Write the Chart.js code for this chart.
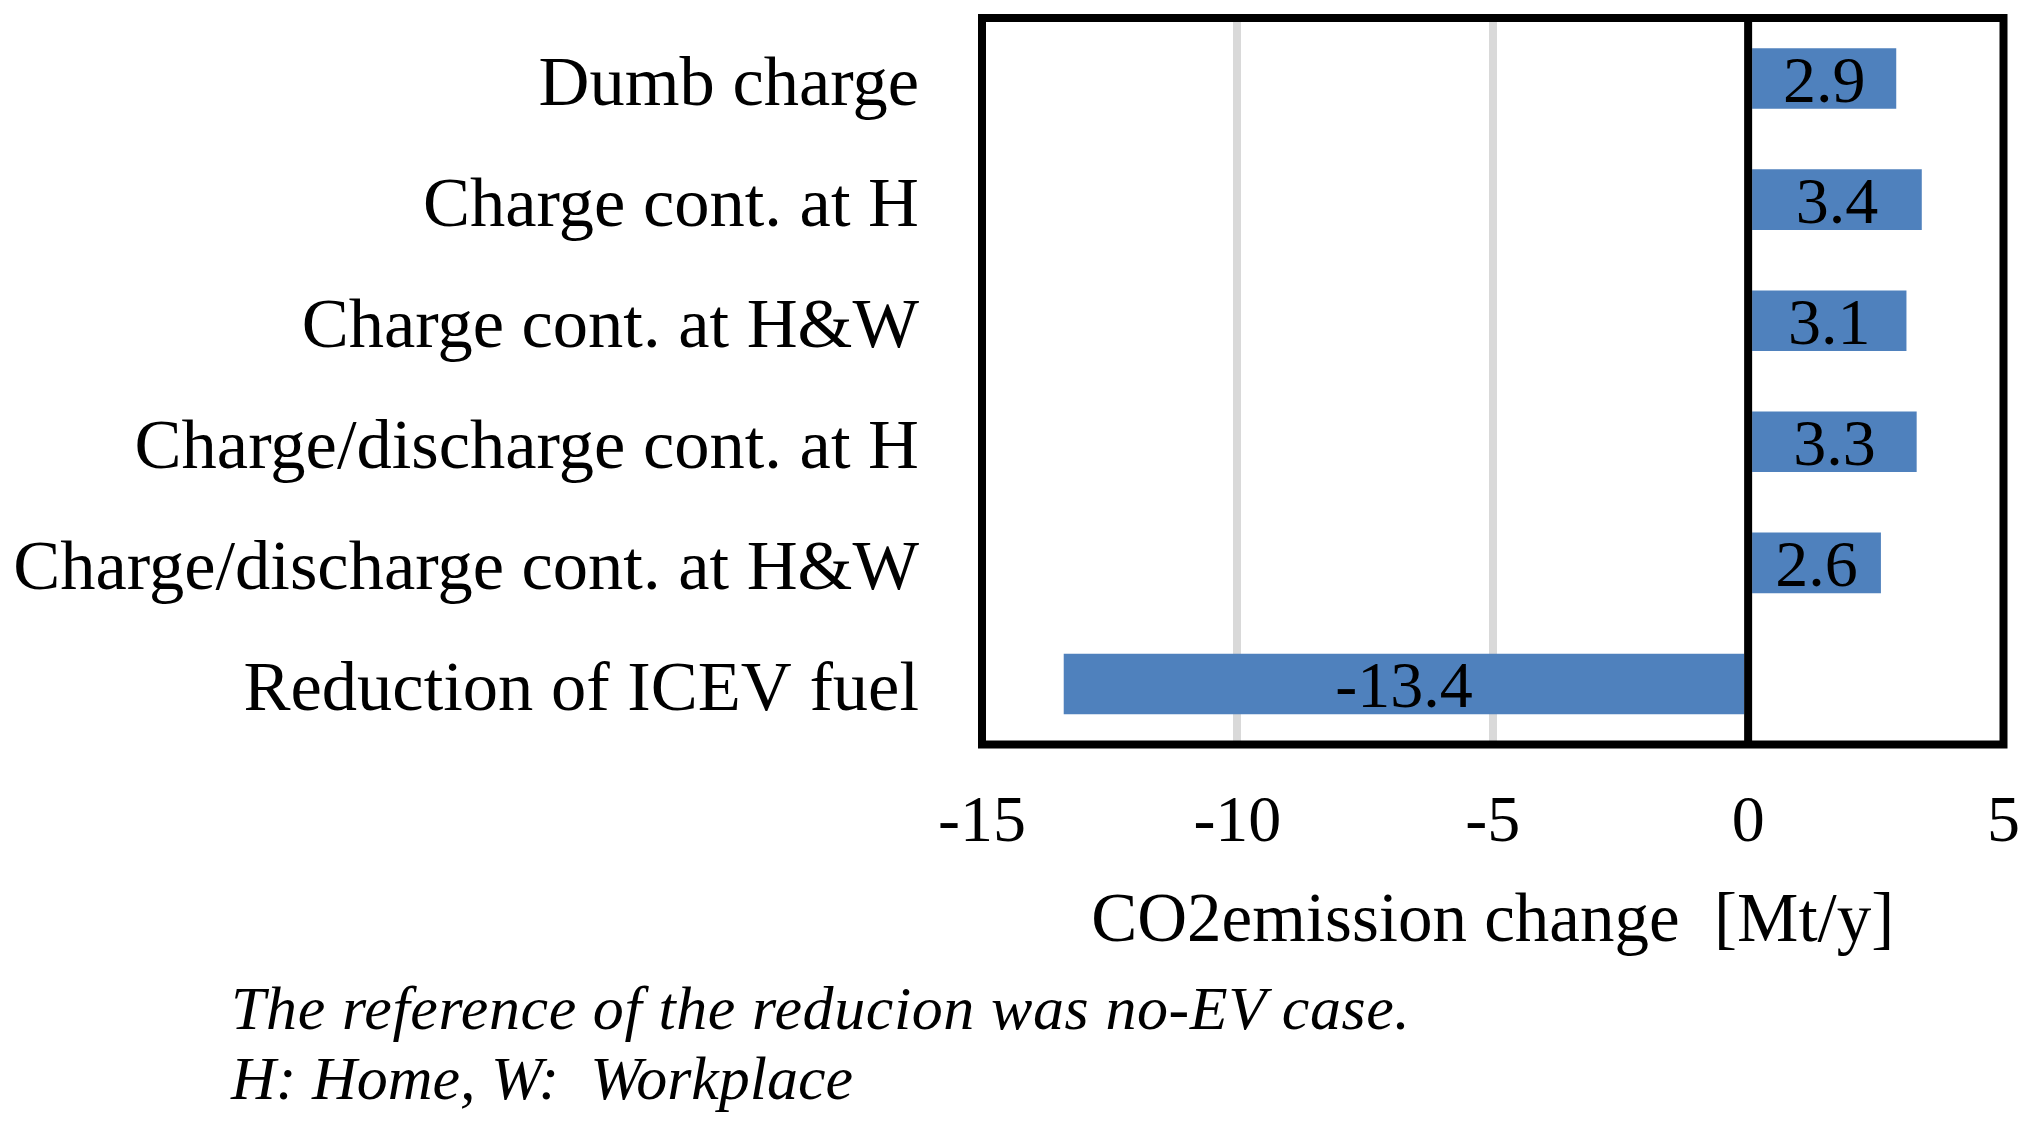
<!DOCTYPE html>
<html>
<head>
<meta charset="utf-8">
<title>CO2 emission change</title>
<script src="https://cdn.jsdelivr.net/npm/chart.js@4.4.1/dist/chart.umd.min.js"></script>
<style>
  html, body { margin: 0; padding: 0; background: #fff; }
  #wrap { position: relative; width: 2036px; height: 1128px; }
  .note {
    position: absolute;
    left: 231px;
    font-family: 'Liberation Serif', 'Times New Roman', serif;
    font-style: italic;
    font-size: 62px;
    line-height: 70px;
    color: #000;
    white-space: pre;
  }
</style>
</head>
<body>
<div id="wrap">
  <canvas id="c" width="2036" height="1128"></canvas>
  <div class="note" style="top:973px; letter-spacing:0.6px;">The reference of the reducion was no-EV case.</div>
  <div class="note" style="top:1043px;">H: Home, W:  Workplace</div>
</div>
<script>
'use strict';

const categories = [
  'Dumb charge',
  'Charge cont. at H',
  'Charge cont. at H&W',
  'Charge/discharge cont. at H',
  'Charge/discharge cont. at H&W',
  'Reduction of ICEV fuel',
];
const emissionChange = [2.9, 3.4, 3.1, 3.3, 2.6, -13.4];
const xTicks = [-15, -10, -5, 0, 5];

const SERIF = "'Liberation Serif', 'Times New Roman', serif";

// frame, zero line and value labels drawn over the bars
const framePlugin = {
  id: 'frame',
  afterDatasetsDraw(chart) {
    const { ctx, chartArea: a, scales } = chart;
    ctx.save();
    ctx.strokeStyle = '#000';
    ctx.lineWidth = 8;
    const x0 = scales.x.getPixelForValue(0);
    ctx.beginPath();
    ctx.moveTo(x0, a.top);
    ctx.lineTo(x0, a.bottom);
    ctx.stroke();
    ctx.strokeRect(a.left, a.top, a.right - a.left, a.bottom - a.top);

    ctx.fillStyle = '#000';
    ctx.font = '66px ' + SERIF;
    ctx.textAlign = 'center';
    ctx.textBaseline = 'middle';
    chart.getDatasetMeta(0).data.forEach((bar, i) => {
      const cx = (bar.x + bar.base) / 2;
      ctx.fillText(emissionChange[i].toFixed(1), cx, bar.y + 6);
    });
    ctx.restore();
  },
};

new Chart(document.getElementById('c'), {
  type: 'bar',
  data: {
    labels: categories,
    datasets: [{
      data: emissionChange,
      backgroundColor: '#4f81bd',
      borderWidth: 0,
      barPercentage: 0.5,
      categoryPercentage: 1,
    }],
  },
  options: {
    indexAxis: 'y',
    responsive: false,
    animation: false,
    devicePixelRatio: 1,
    layout: { padding: { left: 0, top: 18, right: 32.5, bottom: 163.6 } },
    plugins: {
      legend: { display: false },
      tooltip: { enabled: false },
    },
    scales: {
      x: {
        min: -15,
        max: 5,
        afterBuildTicks: (scale) => { scale.ticks = xTicks.map(v => ({ value: v })); },
        afterFit: (scale) => {
          scale.height = 219.9;
          scale.paddingLeft = 0;
          scale.paddingRight = 0;
        },
        grid: {
          color: (c) => (c.tick && (c.tick.value === -10 || c.tick.value === -5)) ? '#d9d9d9' : 'rgba(0,0,0,0)',
          lineWidth: 8,
          drawTicks: false,
        },
        border: { display: false },
        ticks: {
          color: '#000',
          padding: 40,
          font: { family: SERIF, size: 66 },
        },
        title: {
          display: true,
          text: 'CO2emission change  [Mt/y]',
          color: '#000',
          padding: 0,
          font: { family: SERIF, size: 69 },
        },
      },
      y: {
        afterFit: (scale) => {
          scale.width = 982;
          scale.paddingTop = 0;
          scale.paddingBottom = 0;
        },
        grid: { display: false, drawTicks: false },
        border: { display: false },
        ticks: {
          color: '#000',
          padding: 63,
          labelOffset: 8,
          font: { family: SERIF, size: 70.5 },
        },
      },
    },
  },
  plugins: [framePlugin],
});
</script>
</body>
</html>
